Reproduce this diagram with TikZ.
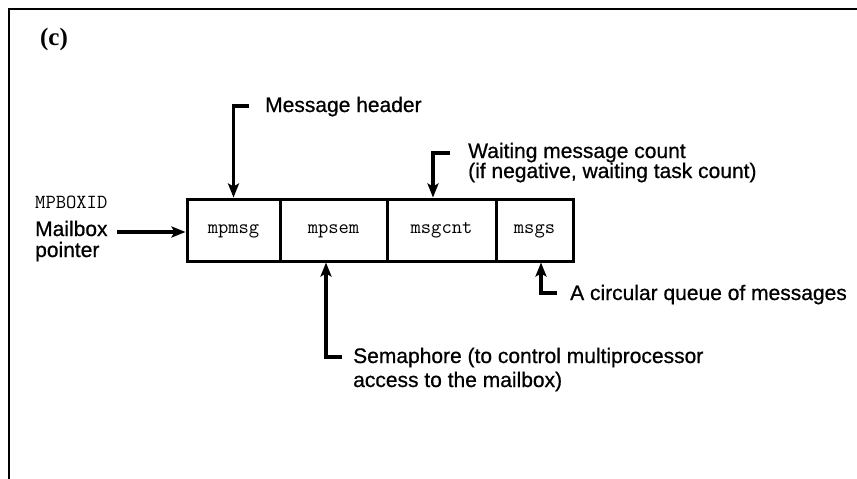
\documentclass[tikz,border=0pt]{standalone}
\usepackage{fontspec}
\setmainfont{Liberation Sans}
\newfontfamily\lblfont[FakeBold=0.7]{Liberation Sans}
\newfontfamily\serifbold{Liberation Serif}
\usetikzlibrary{arrows.meta}
\tikzset{
	frameline/.style={line width=2pt},
	cell/.style={draw, line width=3pt, minimum height=62pt, inner sep=0pt,
		font=\ttfamily\addfontfeatures{FakeBold=0.6}\fontsize{20}{24}\selectfont, text height=9pt, text depth=3pt},
	lbl/.style={inner sep=0pt, anchor=base west, font=\lblfont\fontsize{21}{24}\selectfont},
	code/.style={inner sep=0pt, anchor=base west, font=\ttfamily\addfontfeatures{FakeBold=0.6}\fontsize{20}{24}\selectfont},
	arr/.style={line width=3.2pt, -{Stealth[length=14pt, width=11pt, inset=3pt]}}
}

\begin{document}
\begin{tikzpicture}[x=1pt, y=-1pt]
	\useasboundingbox (0, 0) rectangle (857, 479);
	\draw[frameline] (9, 479) -- (9, 9) -- (857, 9);
	\node[inner sep=0pt, font=\serifbold\bfseries\fontsize{25}{28}\selectfont] (tag) at (54, 39) {(c)};
	\node[cell, minimum width=93pt] (mpmsg) at (233.5, 230) {mpmsg};
	\node[cell, minimum width=107pt] (mpsem) at (333.5, 230) {mpsem};
	\node[cell, minimum width=109pt] (msgcnt) at (441.5, 230) {msgcnt};
	\node[cell, minimum width=77pt] (msgs) at (534.5, 230) {msgs};
	\node[code] (boxid) at (35, 208) {MPBOXID};
	\node[lbl] (mbox) at (35, 236) {Mailbox};
	\node[lbl] (mptr) at (35, 257) {pointer};
	\node[lbl] (hdr) at (265, 112) {Message header};
	\node[lbl] (cnt1) at (468, 158) {Waiting message count};
	\node[lbl] (cnt2) at (468, 178) {(if negative, waiting task count)};
	\node[lbl] (que) at (570, 300) {A circular queue of messages};
	\node[lbl] (sem1) at (353, 363) {Semaphore (to control multiprocessor};
	\node[lbl] (sem2) at (353, 387) {access to the mailbox)};
	\coordinate (mbox arrow) at (117, 232);
	\coordinate (hdr arrow) at (249, 106);
	\coordinate (cnt arrow) at (450, 153);
	\coordinate (que arrow) at (557, 293);
	\coordinate (sem arrow) at (342, 357);
	\draw[arr] (mbox arrow) -- (mbox arrow -| mpmsg.west);
	\draw[arr] (hdr arrow) -| (mpmsg.north);
	\draw[arr] (cnt arrow) -| ([xshift=-8.5pt]msgcnt.north);
	\draw[arr] (que arrow) -| ([xshift=6.5pt]msgs.south);
	\draw[arr] (sem arrow) -| ([xshift=-7.5pt]mpsem.south);
\end{tikzpicture}
\end{document}
